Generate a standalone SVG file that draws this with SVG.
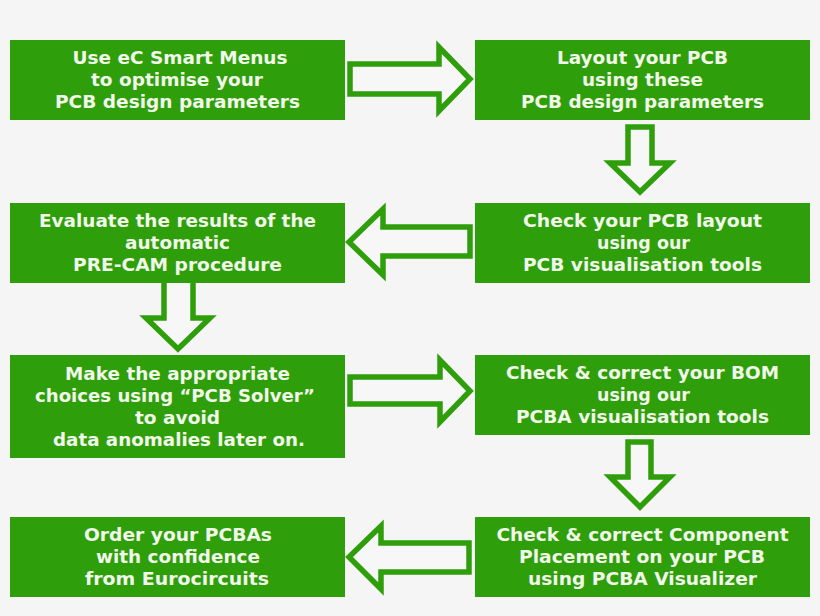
<svg xmlns="http://www.w3.org/2000/svg" width="820" height="616" viewBox="0 0 820 616">
<style>
.box{fill:#2f9e0b}
.arr{fill:#f7f7f7;stroke:#2f9e0b;stroke-width:5.5;stroke-linejoin:miter}
.t{font-family:"DejaVu Sans","Verdana","Liberation Sans",sans-serif;font-weight:bold;font-size:17px;fill:#f1f8ea;text-anchor:middle}
.c{font-stretch:condensed;font-size:18px}
</style>
<rect width="820" height="616" fill="#f5f5f5"/>
<g id="connectors">
<polygon class="arr" points="350,64 439,64 439,47 470,79 439,111 439,94 350,94"/>
<polygon class="arr" points="628,127 652,127 652,163 670,163 640,192 610,163 628,163"/>
<polygon class="arr" points="470,227 383,227 383,209 349,242 383,275 383,256 470,256"/>
<polygon class="arr" points="164,280 193,280 193,318 210,318 178,349 146,318 164,318"/>
<polygon class="arr" points="350,377 440,377 440,360 470,391 440,422 440,404 350,404"/>
<polygon class="arr" points="628,442 651,442 651,477 670,477 640,507 610,477 628,477"/>
<polygon class="arr" points="469,543 381,543 381,526 349,557 381,589 381,572 469,572"/>
</g>
<g id="n1">
<rect class="box" x="10" y="40" width="335" height="80"/>
<text class="t" x="180" y="64" textLength="215" lengthAdjust="spacingAndGlyphs">Use eC Smart Menus</text>
<text class="t" x="177" y="86" textLength="172" lengthAdjust="spacingAndGlyphs">to optimise your</text>
<text class="t" x="177.5" y="108" textLength="245" lengthAdjust="spacingAndGlyphs">PCB design parameters</text>
</g>
<g id="n2">
<rect class="box" x="475" y="40" width="335" height="80"/>
<text class="t" x="642.5" y="64" textLength="171" lengthAdjust="spacingAndGlyphs">Layout your PCB</text>
<text class="t" x="642.5" y="86" textLength="121" lengthAdjust="spacingAndGlyphs">using these</text>
<text class="t" x="642.5" y="108" textLength="243" lengthAdjust="spacingAndGlyphs">PCB design parameters</text>
</g>
<g id="n3">
<rect class="box" x="475" y="203" width="335" height="80"/>
<text class="t" x="642.5" y="227" textLength="239" lengthAdjust="spacingAndGlyphs">Check your PCB layout</text>
<text class="t" x="643.5" y="249" textLength="93" lengthAdjust="spacingAndGlyphs">using our</text>
<text class="t" x="642.5" y="271" textLength="239" lengthAdjust="spacingAndGlyphs">PCB visualisation tools</text>
</g>
<g id="n4">
<rect class="box" x="10" y="203" width="335" height="80"/>
<text class="t" x="177.5" y="227" textLength="277" lengthAdjust="spacingAndGlyphs">Evaluate the results of the</text>
<text class="t" x="177.5" y="249" textLength="105" lengthAdjust="spacingAndGlyphs">automatic</text>
<text class="t" x="177.5" y="271" textLength="209" lengthAdjust="spacingAndGlyphs">PRE-CAM procedure</text>
</g>
<g id="n5">
<rect class="box" x="10" y="355" width="335" height="103"/>
<text class="t" x="177.5" y="380" textLength="225" lengthAdjust="spacingAndGlyphs">Make the appropriate</text>
<text class="t" x="175" y="402" textLength="280" lengthAdjust="spacingAndGlyphs">choices using “PCB Solver”</text>
<text class="t" x="177.5" y="424" textLength="85" lengthAdjust="spacingAndGlyphs">to avoid</text>
<text class="t" x="179" y="446" textLength="252" lengthAdjust="spacingAndGlyphs">data anomalies later on.</text>
</g>
<g id="n6">
<rect class="box" x="475" y="355" width="335" height="80"/>
<text class="t" x="642.5" y="379" textLength="273" lengthAdjust="spacingAndGlyphs">Check &amp; correct your BOM</text>
<text class="t" x="643.5" y="401" textLength="93" lengthAdjust="spacingAndGlyphs">using our</text>
<text class="t" x="642.5" y="423" textLength="253" lengthAdjust="spacingAndGlyphs">PCBA visualisation tools</text>
</g>
<g id="n7">
<rect class="box" x="475" y="517" width="335" height="80"/>
<text class="t c" x="642.5" y="541" textLength="292" lengthAdjust="spacingAndGlyphs">Check &amp; correct Component</text>
<text class="t c" x="642" y="563" textLength="246" lengthAdjust="spacingAndGlyphs">Placement on your PCB</text>
<text class="t c" x="642.5" y="585" textLength="229" lengthAdjust="spacingAndGlyphs">using PCBA Visualizer</text>
</g>
<g id="n8">
<rect class="box" x="10" y="517" width="335" height="80"/>
<text class="t c" x="178" y="541" textLength="188" lengthAdjust="spacingAndGlyphs">Order your PCBAs</text>
<text class="t c" x="178" y="563" textLength="164" lengthAdjust="spacingAndGlyphs">with confidence</text>
<text class="t c" x="177" y="585" textLength="184" lengthAdjust="spacingAndGlyphs">from Eurocircuits</text>
</g>
</svg>
